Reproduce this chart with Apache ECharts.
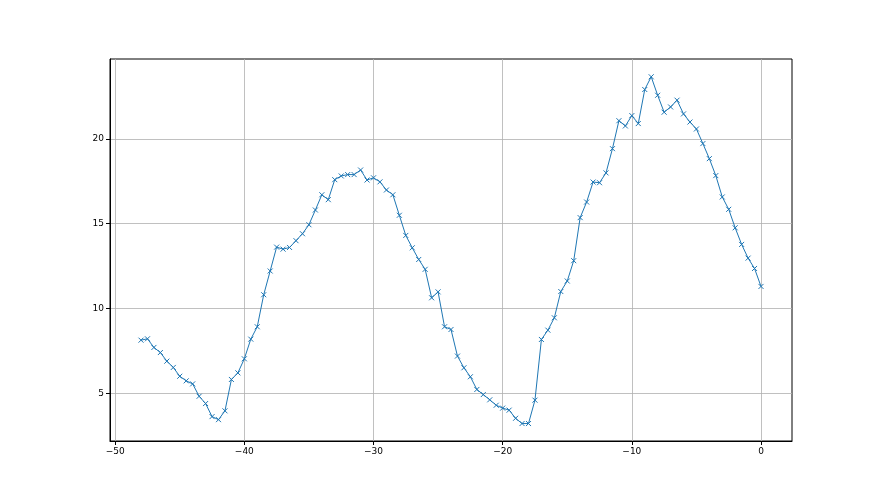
<!DOCTYPE html>
<html><head><meta charset="utf-8">
<script src="https://cdn.jsdelivr.net/npm/echarts@6/dist/echarts.min.js"></script>
<style>html,body{margin:0;padding:0;background:#fff}#c{width:880px;height:495px}</style>
</head><body><div id="c"></div>
<script>
const xValues = [-48,-47.5,-47,-46.5,-46,-45.5,-45,-44.5,-44,-43.5,-43,-42.5,-42,-41.5,-41,-40.5,-40,-39.5,-39,-38.5,-38,-37.5,-37,-36.5,-36,-35.5,-35,-34.5,-34,-33.5,-33,-32.5,-32,-31.5,-31,-30.5,-30,-29.5,-29,-28.5,-28,-27.5,-27,-26.5,-26,-25.5,-25,-24.5,-24,-23.5,-23,-22.5,-22,-21.5,-21,-20.5,-20,-19.5,-19,-18.5,-18,-17.5,-17,-16.5,-16,-15.5,-15,-14.5,-14,-13.5,-13,-12.5,-12,-11.5,-11,-10.5,-10,-9.5,-9,-8.5,-8,-7.5,-7,-6.5,-6,-5.5,-5,-4.5,-4,-3.5,-3,-2.5,-2,-1.5,-1,-0.5,0];
const yValues = [8.13,8.21,7.70,7.40,6.89,6.52,6.00,5.73,5.55,4.82,4.39,3.62,3.44,3.96,5.81,6.20,7.03,8.19,8.92,10.81,12.21,13.62,13.50,13.60,14.00,14.41,14.94,15.81,16.71,16.42,17.60,17.82,17.90,17.90,18.17,17.58,17.71,17.47,16.99,16.71,15.50,14.31,13.58,12.89,12.31,10.63,10.98,8.92,8.76,7.19,6.50,5.97,5.22,4.92,4.61,4.29,4.12,4.00,3.52,3.21,3.21,4.59,8.17,8.72,9.45,11.00,11.62,12.82,15.36,16.28,17.46,17.42,18.00,19.43,21.08,20.77,21.38,20.91,22.92,23.67,22.58,21.58,21.89,22.29,21.48,21.00,20.59,19.73,18.84,17.84,16.58,15.85,14.76,13.78,12.97,12.36,11.30];
const xTicks = [-50,-40,-30,-20,-10,0];
const yTicks = [5,10,15,20];

const data = xValues.map((x,i)=>[x,yValues[i]]);
const fmt = v => (v<0 ? '\u2212' + Math.abs(v) : String(v));
const labelStyle = {color:'#000', fontSize:9, fontFamily:'DejaVu Sans'};
const chart = echarts.init(document.getElementById('c'), null, {renderer:'canvas'});
chart.setOption({
  animation:false,
  backgroundColor:'#fff',
  grid:{left:110,right:88,top:59,bottom:54,show:true,borderColor:'#000',borderWidth:1,backgroundColor:'transparent'},
  xAxis:{type:'value',min:-50.4,max:2.4,
    axisLine:{show:true,onZero:false,lineStyle:{color:'#000',width:1}},
    axisTick:{show:true,length:4,customValues:xTicks,lineStyle:{color:'#000'}},
    axisLabel:{customValues:xTicks,formatter:fmt,margin:6,...labelStyle},
    splitLine:{show:true,lineStyle:{color:'#b0b0b0',width:0.8}}},
  yAxis:{type:'value',min:2.18,max:24.72,
    axisLine:{show:true,onZero:false,lineStyle:{color:'#000',width:1}},
    axisTick:{show:true,length:4,customValues:yTicks,lineStyle:{color:'#000'}},
    axisLabel:{customValues:yTicks,formatter:fmt,margin:6,...labelStyle},
    splitLine:{show:true,lineStyle:{color:'#b0b0b0',width:0.8}}},
  series:[{type:'line',data:data,
    lineStyle:{color:'#1f77b4',width:1},
    symbol:'path://M0,0L10,10M10,0L0,10',symbolSize:5,showSymbol:true,
    itemStyle:{color:'#1f77b4',borderColor:'#1f77b4',borderWidth:1}}]
});
</script></body></html>
